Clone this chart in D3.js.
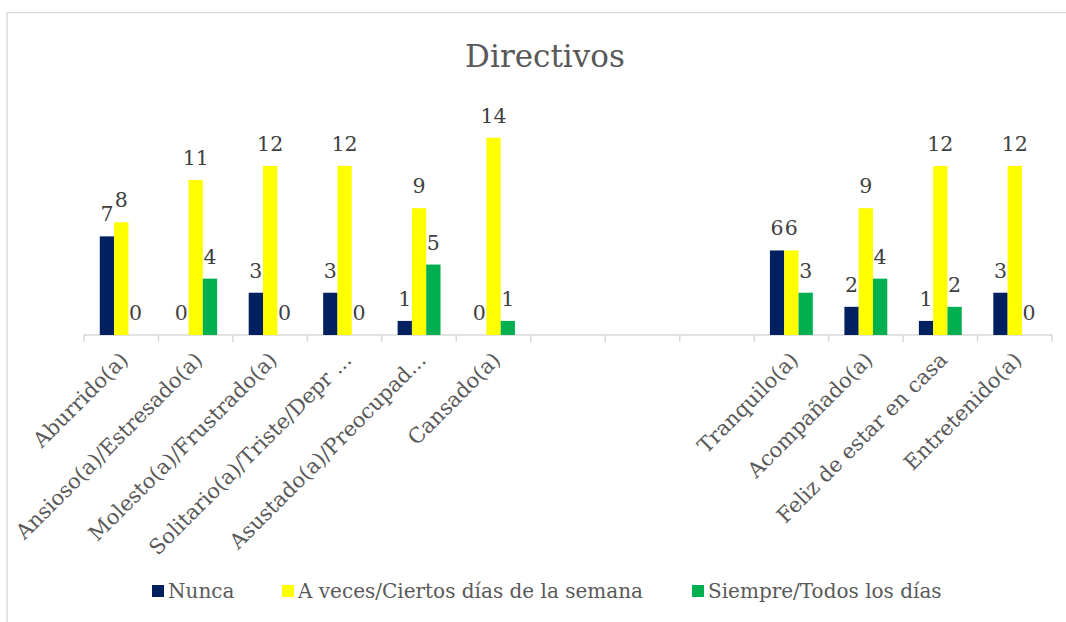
<!DOCTYPE html>
<html>
<head>
<meta charset="utf-8">
<script src="https://cdn.jsdelivr.net/npm/d3@7"></script>
<style>
  body { margin: 0; background: #fff; }
  text { font-family: "DejaVu Serif", serif; }
</style>
</head>
<body>
<div id="chart"></div>
<script>
const width = 1066;
const height = 622;

// categorias (las vacias son huecos en el eje)
const categories = ["Aburrido(a)", "Ansioso(a)/Estresado(a)", "Molesto(a)/Frustrado(a)",
  "Solitario(a)/Triste/Depr ...", "Asustado(a)/Preocupad...", "Cansado(a)",
  "", "", "",
  "Tranquilo(a)", "Acompañado(a)", "Feliz de estar en casa", "Entretenido(a)"];

const seriesNames = ["Nunca", "A veces/Ciertos días de la semana", "Siempre/Todos los días"];
const nunca   = [7, 0, 3, 3, 1, 0, null, null, null, 6, 2, 1, 3];
const aVeces  = [8, 11, 12, 12, 9, 14, null, null, null, 6, 9, 12, 12];
const siempre = [0, 4, 0, 0, 5, 1, null, null, null, 3, 4, 2, 0];
const colors = ["#002060", "#FFFF00", "#00B050"];

const marginLeft = 84;
const marginRight = 14;
const baseline = 335;

const svg = d3.select("#chart").append("svg")
  .attr("width", width)
  .attr("height", height);

// marco del grafico
svg.append("rect")
  .attr("x", 7).attr("y", 12.5)
  .attr("width", 1100).attr("height", 700)
  .attr("fill", "none")
  .attr("stroke", "#d9d9d9")
  .attr("stroke-width", 1.4);

svg.append("text")
  .text("Directivos")
  .attr("x", 545)
  .attr("y", 67)
  .attr("text-anchor", "middle")
  .attr("fill", "#595959")
  .style("font-size", "31px");

const x = d3.scaleBand()
  .domain(d3.range(categories.length))
  .range([marginLeft, width - marginRight]);

const y = d3.scaleLinear()
  .domain([0, 16])
  .range([baseline, baseline - 16 * 14.09]);

const barW = x.bandwidth() * 0.192;
const xSub = d3.scaleBand()
  .domain([0, 1, 2])
  .range([x.bandwidth() / 2 - 1.5 * barW, x.bandwidth() / 2 + 1.5 * barW]);

// eje x: linea y marcas entre categorias
const axis = svg.append("g");
axis.append("line")
  .attr("x1", x.range()[0]).attr("x2", x.range()[1])
  .attr("y1", baseline).attr("y2", baseline)
  .attr("stroke", "#d9d9d9").attr("stroke-width", 1.5);
axis.selectAll(".tick")
  .data(d3.range(categories.length + 1))
  .join("line")
  .attr("x1", d => x.range()[0] + d * x.step())
  .attr("x2", d => x.range()[0] + d * x.step())
  .attr("y1", baseline).attr("y2", baseline + 7)
  .attr("stroke", "#d9d9d9").attr("stroke-width", 1.5);

// etiquetas rotadas
svg.append("g").selectAll("text")
  .data(categories)
  .join("text")
  .text(d => d)
  .attr("text-anchor", "end")
  .attr("dy", "0.35em")
  .attr("fill", "#595959")
  .style("font-size", "21px")
  .attr("transform", (d, i) => `translate(${x(i) + x.bandwidth() / 2 + 3}, ${baseline + 21}) rotate(-45)`);

// barras
const series = [nunca, aVeces, siempre];
const flat = [];
series.forEach((vals, s) => vals.forEach((v, i) => {
  if (v !== null) flat.push({ s: s, i: i, v: v });
}));

svg.append("g").selectAll("rect")
  .data(flat)
  .join("rect")
  .attr("x", d => x(d.i) + xSub(d.s))
  .attr("width", xSub.bandwidth())
  .attr("y", d => y(d.v))
  .attr("height", d => baseline - y(d.v))
  .attr("fill", d => colors[d.s]);

svg.append("g").selectAll("text")
  .data(flat)
  .join("text")
  .text(d => d.v)
  .attr("x", d => x(d.i) + xSub(d.s) + xSub.bandwidth() / 2)
  .attr("y", d => y(d.v) - 15)
  .attr("text-anchor", "middle")
  .attr("fill", "#404040")
  .style("font-size", "20.5px");

// leyenda
const legendX = [152, 282, 692];
const legend = svg.append("g").selectAll("g")
  .data(seriesNames)
  .join("g")
  .attr("transform", (d, i) => `translate(${legendX[i]}, 585)`);
legend.append("rect")
  .attr("width", 12).attr("height", 12)
  .attr("fill", (d, i) => colors[i]);
legend.append("text")
  .text(d => d)
  .attr("x", 16)
  .attr("y", 13)
  .attr("fill", "#595959")
  .style("font-size", "20px");
</script>
</body>
</html>
